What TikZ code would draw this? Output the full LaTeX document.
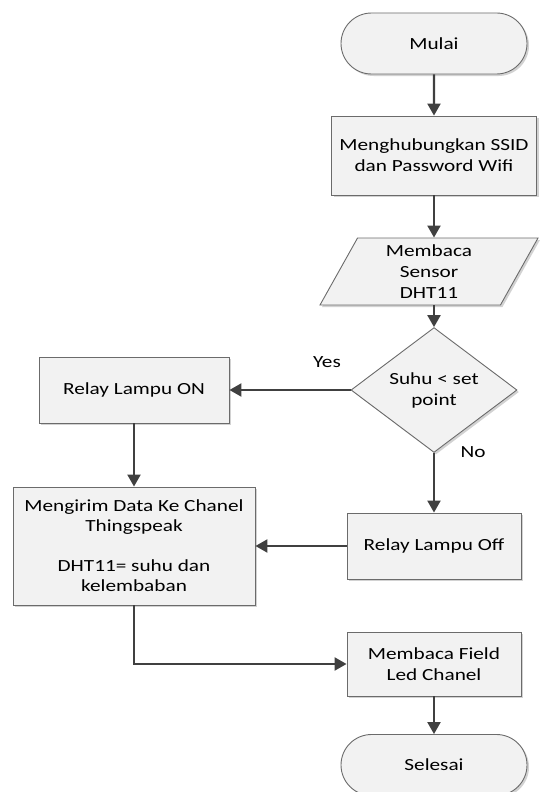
\documentclass[tikz,border=0pt]{standalone}
\usepackage{fontspec}
\setmainfont{Carlito}[FakeStretch=1.25]
\usetikzlibrary{arrows.meta, positioning, shapes.geometric, shapes.misc, shadows}
\definecolor{cfill}{HTML}{F2F2F2}
\definecolor{cline}{HTML}{6B6B6B}
\definecolor{carrow}{HTML}{404040}
\tikzset{
  every picture/.style={font=\fontsize{17}{21}\selectfont},
  box/.style={draw=cline, fill=cfill, line width=0.9pt, align=center, inner sep=2pt,
    drop shadow={shadow xshift=2pt, shadow yshift=-2pt, fill=black!35, opacity=0.5}},
  term/.style={box, rounded rectangle, minimum width=190pt, minimum height=61pt},
  proc/.style={box, rectangle, minimum width=#1, minimum height=66pt},
  proc/.default=174pt,
  io/.style={box, trapezium, trapezium left angle=57, trapezium right angle=123,
    trapezium stretches body, minimum width=218pt, minimum height=67pt},
  decision/.style={box, diamond, inner sep=0pt, minimum width=166pt, minimum height=80pt},
  arrow/.style={-{Triangle[length=12pt, width=13pt]}, draw=carrow, line width=2.2pt},
  note/.style={font=\fontsize{17}{21}\selectfont, text=black},
}
\begin{document}
\begin{tikzpicture}[x=1pt, y=-1pt]
  \useasboundingbox (0,0) rectangle (539,792);
  % main column
  \node[term] (start) at (434,43.5) {Mulai};
  \node[proc=205pt, minimum height=79pt] (wifi) at (434,155.5) {Menghubungkan SSID\\dan Password Wifi};
  \node[io] (baca) at (429,271.5) {Membaca\\Sensor\\DHT11};
  \node[decision] (dec) at (434,390) {Suhu < set\\point};
  \node[proc] (off) at (434,546) {Relay Lampu Off};
  \node[proc, minimum height=64pt] (field) at (434,664) {Membaca Field\\Led Chanel};
  \node[term] (stop) at (434,765) {Selesai};
  % left column
  \node[proc=190pt] (on) at (134,390) {Relay Lampu ON};
  \node[proc=242pt, minimum height=118pt, font=\fontsize{17}{20}\selectfont] (kirim) at (134,546)
    {Mengirim Data Ke Chanel\\Thingspeak\\[20pt]DHT11= suhu dan\\kelembaban};
  % branch labels
  \node[note] (yes) at (327,362) {Yes};
  \node[note] (no) at (473,452) {No};
  % connectors
  \draw[arrow] (start) -- (wifi);
  \draw[arrow] (wifi.south) -- (wifi.south |- baca.north);
  \draw[arrow] (baca.south -| dec.north) -- (dec.north);
  \draw[arrow] (dec.west) -- (on.east);
  \draw[arrow] (dec.south) -- (off.north);
  \draw[arrow] (on) -- (kirim);
  \draw[arrow] (off.west) -- (kirim.east);
  \draw[arrow] (kirim.south) |- (field.west);
  \draw[arrow] (field) -- (stop);
\end{tikzpicture}
\end{document}
